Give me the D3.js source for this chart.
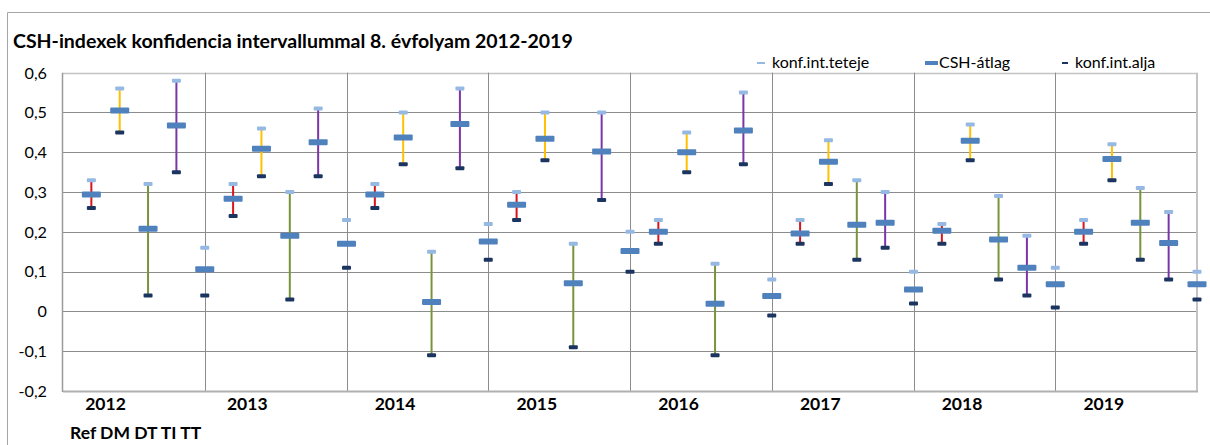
<!DOCTYPE html>
<html><head><meta charset="utf-8">
<script src="https://cdn.jsdelivr.net/npm/d3@7/dist/d3.min.js"></script>
<style>
html,body{margin:0;padding:0;background:#fff;}
svg{display:block;font-family:Lato,"Open Sans",sans-serif;}
</style></head>
<body>
<svg id="chart" width="1210" height="445"></svg>
<script>
const years = ["2012","2013","2014","2015","2016","2017","2018","2019"];
const groups = ["Ref","DM","DT","TI","TT"];
const yTicks = [-0.2,-0.1,0,0.1,0.2,0.3,0.4,0.5,0.6];

const refTop  = [0.33,0.32,0.32,0.30,0.23,0.23,0.22,0.23];
const refMean = [0.294,0.283,0.294,0.268,0.200,0.196,0.203,0.200];
const refLow  = [0.26,0.24,0.26,0.23,0.17,0.17,0.17,0.17];
const dmTop   = [0.56,0.46,0.50,0.50,0.45,0.43,0.47,0.42];
const dmMean  = [0.505,0.409,0.437,0.434,0.400,0.376,0.429,0.383];
const dmLow   = [0.45,0.34,0.37,0.38,0.35,0.32,0.38,0.33];
const dtTop   = [0.32,0.30,0.15,0.17,0.12,0.33,0.29,0.31];
const dtMean  = [0.208,0.190,0.024,0.071,0.019,0.218,0.181,0.223];
const dtLow   = [0.04,0.03,-0.11,-0.09,-0.11,0.13,0.08,0.13];
const tiTop   = [0.58,0.51,0.56,0.50,0.55,0.30,0.19,0.25];
const tiMean  = [0.467,0.425,0.471,0.402,0.455,0.223,0.110,0.172];
const tiLow   = [0.35,0.34,0.36,0.28,0.37,0.16,0.04,0.08];
const ttTop   = [0.16,0.23,0.22,0.20,0.08,0.10,0.11,0.10];
const ttMean  = [0.106,0.170,0.176,0.152,0.039,0.055,0.068,0.068];
const ttLow   = [0.04,0.11,0.13,0.10,-0.01,0.02,0.01,0.03];

const seriesNames = ["konf.int.teteje","CSH-átlag","konf.int.alja"];

// build table
const groupData = {
  Ref:{top:refTop,mean:refMean,low:refLow,color:"#d8141c"},
  DM:{top:dmTop,mean:dmMean,low:dmLow,color:"#ffc000"},
  DT:{top:dtTop,mean:dtMean,low:dtLow,color:"#77933c"},
  TI:{top:tiTop,mean:tiMean,low:tiLow,color:"#7a35a8"},
  TT:{top:ttTop,mean:ttMean,low:ttLow,color:null}
};
const rows = [];
years.forEach((yr,yi)=>{
  groups.forEach((g,gi)=>{
    const d = groupData[g];
    rows.push({year:yr,group:g,idx:yi*groups.length+gi+1,top:d.top[yi],mean:d.mean[yi],low:d.low[yi],color:d.color});
  });
});

const svg = d3.select("#chart");
const L = 63, R = 1197, T = 72.7, B = 391;
const nCat = years.length*groups.length;
const x = d3.scaleLinear().domain([0,nCat]).range([L,R]);
const y = d3.scaleLinear().domain([-0.2,0.6]).range([B,T]);

// chart border
svg.append("path").attr("d",`M7.5,445 V12.5 H1210`).attr("fill","none").attr("stroke","#a6a6a6").attr("stroke-width",1);

// title
svg.append("text").attr("x",13).attr("y",48).attr("font-weight","bold").attr("font-size",19.5)
  .attr("fill","#000").text("CSH-indexek konfidencia intervallummal 8. évfolyam 2012-2019");

// horizontal gridlines
svg.append("g").selectAll("line").data(yTicks).join("line")
  .attr("x1",L).attr("x2",R).attr("y1",d=>Math.round(y(d))+0.5).attr("y2",d=>Math.round(y(d))+0.5)
  .attr("stroke",d=>d===0.6?"#c4c4c4":"#8c8c8c").attr("stroke-width",d=>d===0.6?1.5:1);
// vertical gridlines
const vIdx = d3.range(5,nCat,groups.length);
svg.append("g").selectAll("line").data(vIdx).join("line")
  .attr("x1",d=>Math.round(x(d))+0.5).attr("x2",d=>Math.round(x(d))+0.5).attr("y1",T).attr("y2",B)
  .attr("stroke","#8c8c8c").attr("stroke-width",1);
// frame
svg.append("line").attr("x1",R).attr("x2",R).attr("y1",T).attr("y2",B).attr("stroke","#c4c4c4").attr("stroke-width",2);
svg.append("line").attr("x1",L-0.5).attr("x2",L-0.5).attr("y1",T).attr("y2",B+1).attr("stroke","#9a9a9a").attr("stroke-width",1.5);
svg.append("line").attr("x1",L).attr("x2",R+1).attr("y1",B+0.5).attr("y2",B+0.5).attr("stroke","#b0b0b0").attr("stroke-width",2);

// y axis labels
svg.append("g").selectAll("text").data(yTicks).join("text")
  .attr("x",47).attr("y",d=>y(d)).attr("dy","0.36em").attr("text-anchor","end")
  .attr("font-size",16.2).attr("fill","#000")
  .text(d=>d3.format(".1f")(d).replace(".",",").replace("−","-").replace("0,0","0"));

// year labels
svg.append("g").selectAll("text").data(years).join("text")
  .attr("x",(d,i)=>x(i*groups.length+1.5)+(i>1?6:0)).attr("y",410).attr("text-anchor","middle")
  .attr("font-weight","bold").attr("font-size",17.5).attr("fill","#000").text(d=>d);

// bottom label
svg.append("text").attr("x",70).attr("y",439).attr("font-weight","bold").attr("font-size",17.5)
  .attr("fill","#000").text(groups.join(" "));

// whiskers
svg.append("g").selectAll("line").data(rows.filter(d=>d.color)).join("line")
  .attr("x1",d=>x(d.idx)).attr("x2",d=>x(d.idx)).attr("y1",d=>y(d.low)).attr("y2",d=>y(d.top))
  .attr("stroke",d=>d.color).attr("stroke-width",2);

// markers
const mk = svg.append("g");
mk.selectAll("rect.top").data(rows).join("rect").attr("class","top")
  .attr("x",d=>x(d.idx)-4.5).attr("y",d=>y(d.top)-2).attr("width",9).attr("height",4).attr("rx",1)
  .attr("fill","#95b9e3");
mk.selectAll("rect.low").data(rows).join("rect").attr("class","low")
  .attr("x",d=>x(d.idx)-4.5).attr("y",d=>y(d.low)-2).attr("width",9).attr("height",4).attr("rx",1)
  .attr("fill","#1b3560");
mk.selectAll("rect.mean").data(rows).join("rect").attr("class","mean")
  .attr("x",d=>x(d.idx)-9.5).attr("y",d=>y(d.mean)-3).attr("width",19).attr("height",6).attr("rx",1)
  .attr("fill","#4f81bd");

// legend
const leg = svg.append("g");
const legX = [757, 925, 1062];
const legW = [8, 13, 6];
const legH = [2, 4, 2];
const legC = ["#95b9e3","#4f81bd","#1b3560"];
seriesNames.forEach((s,i)=>{
  leg.append("rect").attr("x",legX[i]).attr("y",63-legH[i]/2).attr("width",legW[i]).attr("height",legH[i]).attr("fill",legC[i]);
  leg.append("text").attr("x",legX[i]+legW[i]+(i===1?1:7)).attr("y",68).attr("font-size",16).attr("fill","#000").text(s);
});
</script>
</body></html>
